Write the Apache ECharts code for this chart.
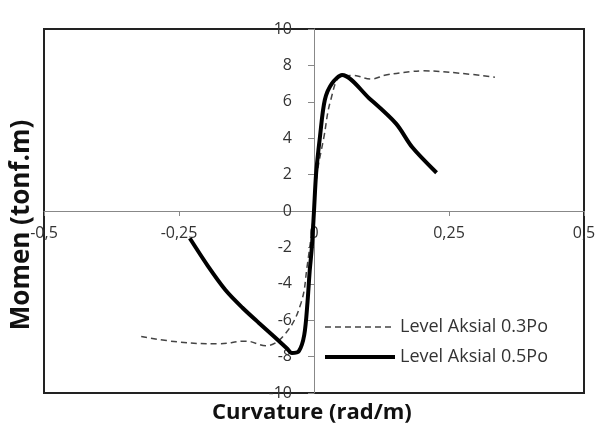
<!DOCTYPE html>
<html>
<head>
<meta charset="utf-8">
<script src="https://cdn.jsdelivr.net/npm/echarts@6/dist/echarts.min.js"></script>
<style>
html, body { margin: 0; padding: 0; background: #fff; }
#chart { width: 609px; height: 441px; }
</style>
</head>
<body>
<div id="chart"></div>
<script>
// curvature (rad/m) and moment (tonf.m)
var curv03 = [-0.32, -0.25, -0.177, -0.126, -0.089, -0.052, -0.024, -0.013, 0, 0.006, 0.018, 0.031, 0.050, 0.071, 0.106, 0.133, 0.177, 0.201, 0.27, 0.335];
var mom03  = [-6.9, -7.2, -7.3, -7.15, -7.4, -6.7, -5.05, -3.1, 0, 2.1, 4.0, 6.1, 7.4, 7.45, 7.25, 7.47, 7.65, 7.7, 7.57, 7.35];
var curv05 = [-0.23, -0.197, -0.164, -0.133, -0.102, -0.072, -0.05, -0.041, -0.028, -0.018, -0.012, -0.008, -0.004, 0, 0.004, 0.011, 0.020, 0.033, 0.052, 0.102, 0.152, 0.182, 0.227];
var mom05  = [-1.5, -3.0, -4.34, -5.3, -6.15, -6.95, -7.55, -7.8, -7.7, -6.8, -5.0, -3.3, -2.0, 0, 2.1, 4.07, 6.1, 7.0, 7.47, 6.2, 4.8, 3.5, 2.1];
var seriesNames = ['Level Aksial 0.3Po', 'Level Aksial 0.5Po'];

function pairs(xs, ys) {
    var out = [];
    for (var i = 0; i < xs.length; i++) out.push([xs[i], ys[i]]);
    return out;
}

var myChart = echarts.init(document.getElementById('chart'));
var txt = '"Open Sans", "Liberation Sans", sans-serif';

// grid is 540 x 364 px, axes cross in the middle
option = {
    backgroundColor: '#fff',
    animation: false,
    textStyle: { fontFamily: txt },
    grid: {
        left: 44, right: 25, top: 29, bottom: 48,
        show: true, borderColor: '#222', borderWidth: 2
    },
    legend: {
        orient: 'vertical',
        left: 318, top: 313,
        itemWidth: 70, itemHeight: 14, itemGap: 12,
        itemStyle: { opacity: 0 },
        textStyle: { fontSize: 18, color: '#333', fontFamily: txt },
        data: [
            { name: seriesNames[0], lineStyle: { color: '#444', width: 1.5, type: [6, 4] } },
            { name: seriesNames[1], lineStyle: { color: '#000', width: 4 } }
        ]
    },
    xAxis: {
        type: 'value',
        min: -0.5, max: 0.5, interval: 0.25,
        position: 'bottom',
        offset: -182,
        axisLine: { onZero: false, lineStyle: { color: '#888', width: 1 } },
        axisTick: { show: true, length: 5, lineStyle: { color: '#888' } },
        axisLabel: {
            margin: 14, fontSize: 16, color: '#333',
            formatter: function (v) { return String(v).replace('.', ','); }
        },
        splitLine: { show: false }
    },
    yAxis: {
        type: 'value',
        min: -10, max: 10, interval: 2,
        position: 'left',
        offset: -270,
        axisLine: { onZero: false, lineStyle: { color: '#888', width: 1 } },
        axisTick: { show: true, length: 6, lineStyle: { color: '#888' } },
        axisLabel: { margin: 22, fontSize: 16, color: '#333' },
        splitLine: { show: false }
    },
    graphic: [
        {
            type: 'text', left: 212, top: 402,
            style: { text: 'Curvature (rad/m)', font: 'bold 22px ' + txt, fill: '#111' }
        },
        {
            type: 'text', x: 9, y: 225, rotation: Math.PI / 2,
            style: { text: 'Momen (tonf.m)', font: 'bold 26px ' + txt, fill: '#111', align: 'center' }
        }
    ],
    series: [
        {
            name: seriesNames[0],
            type: 'line',
            smooth: 0.4,
            symbol: 'none',
            data: pairs(curv03, mom03),
            lineStyle: { color: '#444', width: 1.5, type: [6, 4] },
            itemStyle: { color: '#444' }
        },
        {
            name: seriesNames[1],
            type: 'line',
            smooth: 0.3,
            symbol: 'none',
            data: pairs(curv05, mom05),
            lineStyle: { color: '#000', width: 4 },
            itemStyle: { color: '#000' }
        }
    ]
};
myChart.setOption(option);
</script>
</body>
</html>
